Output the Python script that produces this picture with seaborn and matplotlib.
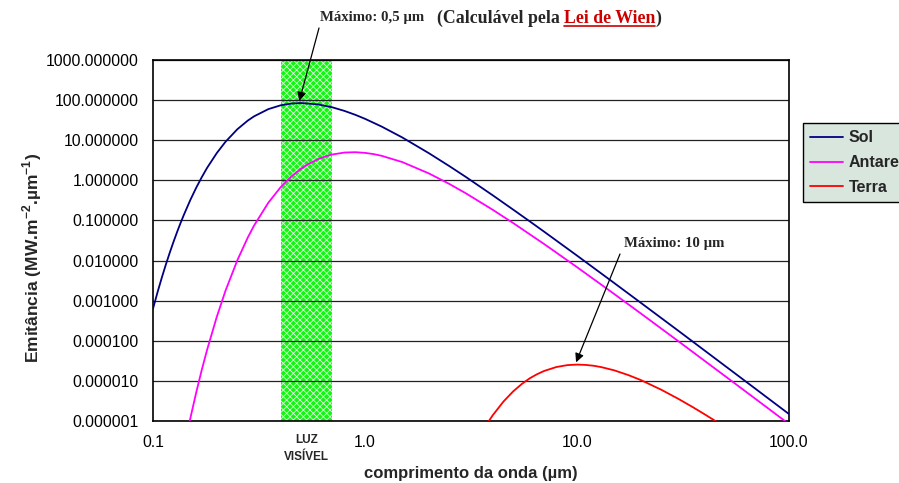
import matplotlib
matplotlib.use('Agg')
import matplotlib.pyplot as plt
import matplotlib.transforms as mtransforms
from matplotlib.ticker import LogLocator, NullFormatter
import seaborn as sns
import pandas as pd

# valeurs (emitância em MW.m-2.um-1)
lambda_sol = [0.1, 0.105, 0.11, 0.115, 0.12, 0.125, 0.13, 0.135, 0.14, 0.15, 0.16, 0.17,
              0.18, 0.2, 0.22, 0.25, 0.28, 0.3, 0.35, 0.4, 0.45, 0.5, 0.6, 0.7, 0.8, 0.9,
              1.0, 1.2, 1.5, 2.0, 2.5, 3.0, 4.0, 5.0, 6.0, 7.0, 10.0, 15.0, 20.0, 30.0,
              50.0, 70.0, 100.0]
emit_sol = [6.3e-4, 1.61e-3, 3.73e-3, 7.97e-3, 1.58e-2, 2.95e-2, 5.2e-2, 8.73e-2, 0.140,
            0.324, 0.659, 1.21, 2.05, 4.80, 9.20, 18.8, 30.9, 39.5, 59.6, 74.2, 82.2, 84.5,
            78.3, 66.3, 53.8, 43.0, 34.2, 21.8, 11.7, 4.76, 2.26, 1.20, 0.425, 0.186,
            9.40e-2, 5.24e-2, 1.33e-2, 2.74e-3, 8.85e-4, 1.79e-4, 2.35e-5, 6.17e-6, 1.49e-6]

lambda_ant = [0.145, 0.15, 0.16, 0.17, 0.18, 0.2, 0.22, 0.25, 0.28, 0.3, 0.35, 0.4, 0.45,
              0.5, 0.55, 0.6, 0.65, 0.7, 0.8, 0.9, 1.0, 1.1, 1.2, 1.5, 2.0, 2.5, 3.0, 4.0,
              5.0, 7.0, 10.0, 15.0, 20.0, 30.0, 50.0, 70.0, 100.0]
emit_ant = [5.1e-7, 1.17e-6, 5.22e-6, 1.92e-5, 5.99e-5, 3.98e-4, 1.80e-3, 1.02e-2, 3.76e-2,
            7.52e-2, 0.277, 0.675, 1.26, 1.96, 2.68, 3.36, 3.94, 4.40, 4.93, 5.03, 4.84,
            4.50, 4.08, 2.85, 1.49, 0.812, 0.470, 0.185, 8.61e-2, 2.58e-2, 6.85e-3,
            1.46e-3, 4.80e-4, 9.84e-5, 1.31e-5, 3.46e-6, 8.4e-7]

lambda_terra = [3.8, 3.9, 4.0, 4.5, 5.0, 5.5, 6.0, 6.5, 7.0, 8.0, 9.0, 10.0, 11.0, 12.0,
                13.0, 15.0, 17.5, 20.0, 25.0, 30.0, 35.0, 40.0, 45.0, 50.0]
emit_terra = [9.2e-7, 1.13e-6, 1.38e-6, 3.06e-6, 5.48e-6, 8.44e-6, 1.17e-5, 1.48e-5,
              1.77e-5, 2.22e-5, 2.47e-5, 2.55e-5, 2.50e-5, 2.38e-5, 2.21e-5, 1.83e-5,
              1.39e-5, 1.05e-5, 6.0e-6, 3.59e-6, 2.25e-6, 1.47e-6, 9.96e-7, 6.98e-7]

y_ticks = [1e-6, 1e-5, 1e-4, 1e-3, 1e-2, 1e-1, 1, 10, 100, 1000]
x_ticks = [0.1, 1, 10, 100]
x_labels = ['0.1', '1.0', '10.0', '100.0']
luz_visivel = (0.4, 0.7)

series = [('Sol', lambda_sol, emit_sol, '#000080'),
          ('Antares', lambda_ant, emit_ant, '#ff00ff'),
          ('Terra', lambda_terra, emit_terra, '#ff0000')]

sns.set_style('white')
plt.rcParams['font.family'] = ['Liberation Sans', 'DejaVu Sans']
plt.rcParams['mathtext.fontset'] = 'custom'
plt.rcParams['mathtext.rm'] = 'Liberation Sans'
plt.rcParams['mathtext.bf'] = 'Liberation Sans:bold'
plt.rcParams['hatch.linewidth'] = 0.6

W, H = 899, 483
fig = plt.figure(figsize=(W / 100, H / 100), dpi=100)
ax = fig.add_axes([153 / W, 1 - 421 / H, 636 / W, 361 / H])

# bande de la lumière visible
ax.axvspan(*luz_visivel, facecolor='#11f511', edgecolor='none', zorder=1)
ax.axvspan(*luz_visivel, facecolor='none', edgecolor='#d8ffd8', hatch='xxxxx', lw=0, zorder=1.1)

for nom, lam, em, c in series:
    df = pd.DataFrame({'lambda': lam, 'emit': em})
    sns.lineplot(data=df, x='lambda', y='emit', ax=ax, color=c, lw=1.3, label=nom, zorder=3)

ax.set_xscale('log')
ax.set_yscale('log')
ax.set_xlim(0.1, 100)
ax.set_ylim(1e-6, 1000)

ax.set_axisbelow('line')
ax.grid(True, axis='y', which='major', color='#222222', lw=0.9)
ax.grid(False, axis='x')

ax.set_yticks(y_ticks)
ax.set_yticklabels([f'{v:.6f}' for v in y_ticks])
ax.yaxis.set_minor_locator(LogLocator(base=10, subs=[]))
ax.set_xticks(x_ticks)
ax.set_xticklabels(x_labels)
ax.xaxis.set_minor_locator(LogLocator(base=10, subs=range(2, 10)))
ax.xaxis.set_minor_formatter(NullFormatter())
ax.tick_params(axis='both', which='major', direction='inout', length=8, width=1,
               labelsize=11.3, color='black', labelcolor='black')
ax.tick_params(axis='y', which='major', pad=6)
ax.tick_params(axis='x', which='major', pad=6)
ax.tick_params(axis='x', which='minor', direction='in', length=4, width=1, color='black')

for s in ax.spines.values():
    s.set_visible(True)
    s.set_color('black')
    s.set_linewidth(1.2)

ax.set_xlabel('comprimento da onda (µm)', fontsize=12, fontweight='bold')
ax.set_ylabel('Emitância (MW.m$^{\\mathbf{-2}}$.µm$^{\\mathbf{-1}}$)', fontsize=12.5,
              fontweight='bold')
ax.xaxis.set_label_coords(0.5, -0.125)
ax.yaxis.set_label_coords(-0.172, 0.452)

trans = mtransforms.blended_transform_factory(ax.transData, ax.transAxes)
ax.text(0.53, -0.035, 'LUZ\nVISÍVEL', transform=trans, ha='center', va='top',
        fontsize=8.5, fontweight='bold', linespacing=1.6)

leg = ax.legend(loc='upper left', bbox_to_anchor=(803 / W, 1 - 123 / H),
                bbox_transform=fig.transFigure, frameon=True, fancybox=False,
                facecolor='#d8e6de', edgecolor='black', framealpha=1,
                prop={'size': 11.5, 'weight': 'bold'}, handlelength=2.05,
                handletextpad=0.35, labelspacing=0.62, borderpad=0.45,
                borderaxespad=0)
leg.get_frame().set_linewidth(1.0)

serif = 'Liberation Serif'
fig.text(320 / W, 1 - 17 / H, 'Máximo: 0,5 µm', family=serif, fontweight='bold',
         fontsize=10.6, va='center', ha='left')
fig.text(624 / W, 1 - 244 / H, 'Máximo: 10 µm', family=serif, fontweight='bold',
         fontsize=10.6, va='center', ha='left')

# titre en morceaux : (Calculável pela  Lei de Wien  )
y_base = (H - 23) / H
fig.canvas.draw()
r = fig.canvas.get_renderer()
t1 = fig.text(437 / W, y_base, '(Calculável pela', family=serif, fontweight='bold',
              fontsize=12.8, va='baseline', ha='left')
bb = t1.get_window_extent(r)
t2 = fig.text((bb.x1 + 4) / W, y_base, 'Lei de Wien', family=serif, fontweight='bold',
              fontsize=12.8, va='baseline', ha='left', color='#cc0000')
bb2 = t2.get_window_extent(r)
fig.text(bb2.x1 / W, y_base, ')', family=serif, fontweight='bold',
         fontsize=12.8, va='baseline', ha='left')
y_u = (H - 26) / H
fig.add_artist(plt.Line2D([bb2.x0 / W, bb2.x1 / W], [y_u, y_u],
                          color='#cc0000', lw=1.2, transform=fig.transFigure))

arrow = dict(arrowstyle='-|>', color='black', lw=0.9, mutation_scale=13, shrinkA=0, shrinkB=0)
ax.annotate('', xy=(0.49, 95), xycoords='data',
            xytext=(319 / W, 1 - 28 / H), textcoords='figure fraction', arrowprops=arrow)
ax.annotate('', xy=(9.9, 2.9e-5), xycoords='data',
            xytext=(620 / W, 1 - 254 / H), textcoords='figure fraction', arrowprops=arrow)

fig.savefig('out.png', dpi=100)
